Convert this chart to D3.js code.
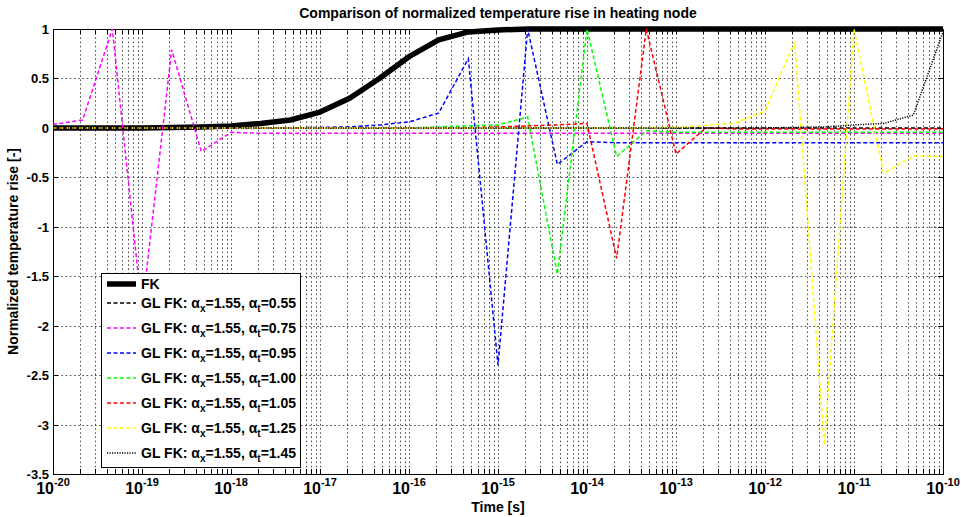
<!DOCTYPE html>
<html>
<head>
<meta charset="utf-8">
<script src="https://cdn.jsdelivr.net/npm/d3@7"></script>
<style>
body { margin: 0; background: #fff; }
svg { display: block; font-family: Arial, "Liberation Sans", Helvetica, sans-serif; font-weight: bold; }
</style>
</head>
<body>
<svg id="chart" width="961" height="517"></svg>
<script>
// sample times [s]
const times = [
    1e-20, 2.154e-20, 4.642e-20,
    1e-19, 2.154e-19, 4.642e-19,
    1e-18, 2.154e-18, 4.642e-18,
    1e-17, 2.154e-17, 4.642e-17,
    1e-16, 2.154e-16, 4.642e-16,
    1e-15, 2.154e-15, 4.642e-15,
    1e-14, 2.154e-14, 4.642e-14,
    1e-13, 2.154e-13, 4.642e-13,
    1e-12, 2.154e-12, 4.642e-12,
    1e-11, 2.154e-11, 4.642e-11,
    1e-10
];

const fk = [0, 0, 0, 0, 0.005, 0.01, 0.02, 0.045, 0.08, 0.16, 0.30, 0.50, 0.72, 0.89, 0.97, 0.99,
    1, 1, 1, 1, 1, 1, 1, 1, 1, 1, 1, 1, 1, 1, 1];
const gl055 = [0, 0, 0, 0, 0, 0, 0, 0, 0, 0, 0, 0, 0, 0, 0, 0,
    0, 0, 0, 0, 0, 0, 0, 0, 0, 0, 0, 0, 0, 0, 0];
const gl075 = [0.035, 0.08, 1.0, -1.85, 0.79, -0.24, -0.045, -0.055, -0.055, -0.055, -0.055,
    -0.055, -0.055, -0.055, -0.055, -0.055, -0.055, -0.055, -0.055, -0.055, -0.055,
    -0.055, -0.055, -0.055, -0.055, -0.055, -0.055, -0.055, -0.055, -0.055, -0.055];
const gl095 = [0, 0, 0, 0, 0, 0, 0, 0, 0, 0.005, 0.01, 0.03, 0.06, 0.15, 0.70, -2.40,
    1.0, -0.37, -0.14, -0.15, -0.15, -0.15, -0.15, -0.15, -0.15, -0.15, -0.15, -0.15, -0.15, -0.15, -0.15];
const gl100 = [0, 0, 0, 0, 0, 0, 0, 0, 0, 0, 0, 0, 0, 0.01, 0.02, 0.03,
    0.11, -1.48, 1.0, -0.29, -0.03, -0.045, -0.045, -0.045, -0.045, -0.045, -0.045, -0.045, -0.045, -0.045, -0.045];
const gl105 = [0, 0, 0, 0, 0, 0, 0, 0, 0, 0, 0, 0, 0, 0, 0, 0.01,
    0.02, 0.03, 0.045, -1.32, 1.0, -0.265, 0.0, -0.01, -0.01, -0.01, -0.01, -0.01, -0.01, -0.01, -0.01];
const gl125 = [0, 0, 0, 0, 0, 0, 0, 0, 0, 0, 0, 0, 0, 0, 0, 0,
    0, 0, 0, 0, 0, 0.005, 0.025, 0.05, 0.17, 0.87, -3.21, 1.0, -0.46, -0.285, -0.29];
const gl145 = [0, 0, 0, 0, 0, 0, 0, 0, 0, 0, 0, 0, 0, 0, 0, 0,
    0, 0, 0, 0, 0, 0, 0, 0, 0, 0.005, 0.01, 0.03, 0.045, 0.13, 0.97];

const glSeries = [gl055, gl075, gl095, gl100, gl105, gl125, gl145];
const alphaT = ["0.55", "0.75", "0.95", "1.00", "1.05", "1.25", "1.45"];
const glColors = ["#000000", "#ff00ff", "#0000ff", "#00ff00", "#ff0000", "#ffff00", "#000000"];
const glDash = ["4,2.5", "4,2.5", "4,2.5", "4,2.5", "4,2.5", "4,2.5", "1.2,1.3"];

const yTicks = [1, 0.5, 0, -0.5, -1, -1.5, -2, -2.5, -3, -3.5];
const yTickLabels = ["1", "0.5", "0", "-0.5", "-1", "-1.5", "-2", "-2.5", "-3", "-3.5"];
const xTickExps = [-20, -19, -18, -17, -16, -15, -14, -13, -12, -11, -10];

const svg = d3.select("#chart"),
    pLeft = 53, pRight = 943, pTop = 29, pBottom = 474;

const x = d3.scaleLog().domain([1e-20, 1e-10]).range([pLeft, pRight]);
const y = d3.scaleLinear().domain([-3.5, 1]).range([pBottom, pTop]);

// grid
const grid = svg.append("g")
    .attr("stroke", "#222")
    .attr("stroke-width", 0.8)
    .attr("stroke-dasharray", "1.6,2.6");

grid.selectAll("line.vx")
    .data(x.ticks(20).filter(function (d) { return d > 1e-20 && d < 1e-10; }))
    .enter().append("line")
    .attr("x1", function (d) { return Math.round(x(d)) + 0.5; })
    .attr("x2", function (d) { return Math.round(x(d)) + 0.5; })
    .attr("y1", pTop)
    .attr("y2", pBottom);

grid.selectAll("line.hy")
    .data(yTicks.filter(function (d) { return d > -3.5 && d < 1; }))
    .enter().append("line")
    .attr("x1", pLeft)
    .attr("x2", pRight)
    .attr("y1", function (d) { return Math.round(y(d)) + 0.5; })
    .attr("y2", function (d) { return Math.round(y(d)) + 0.5; });

// inner tick marks
const tickG = svg.append("g").attr("stroke", "#000").attr("stroke-width", 1);
x.ticks(20).forEach(function (d) {
    const px = Math.round(x(d)) + 0.5;
    tickG.append("line").attr("x1", px).attr("x2", px).attr("y1", pBottom).attr("y2", pBottom - 5);
    tickG.append("line").attr("x1", px).attr("x2", px).attr("y1", pTop).attr("y2", pTop + 5);
});
yTicks.forEach(function (d) {
    const py = Math.round(y(d)) + 0.5;
    tickG.append("line").attr("x1", pLeft).attr("x2", pLeft + 5).attr("y1", py).attr("y2", py);
    tickG.append("line").attr("x1", pRight).attr("x2", pRight - 5).attr("y1", py).attr("y2", py);
});

// box
svg.append("rect")
    .attr("x", pLeft + 0.5)
    .attr("y", pTop + 0.5)
    .attr("width", pRight - pLeft)
    .attr("height", pBottom - pTop)
    .attr("fill", "none")
    .attr("stroke", "#000")
    .attr("stroke-width", 1);

// y tick labels
svg.append("g").selectAll("text")
    .data(yTicks)
    .enter().append("text")
    .attr("x", pLeft - 4)
    .attr("y", function (d) { return y(d) + 5; })
    .attr("text-anchor", "end")
    .attr("font-size", 13)
    .text(function (d, i) { return yTickLabels[i]; });

// x tick labels
const xLab = svg.append("g").selectAll("text")
    .data(xTickExps)
    .enter().append("text")
    .attr("x", function (d) { return x(Math.pow(10, d)); })
    .attr("y", 494)
    .attr("text-anchor", "middle");
xLab.append("tspan").attr("font-size", 16).text("10");
xLab.append("tspan").attr("font-size", 11).attr("dy", -8).text(function (d) { return String(d); });

// lines
const line = d3.line()
    .x(function (d, i) { return x(times[i]); })
    .y(function (d) { return y(d); });

svg.append("path")
    .attr("d", line(fk))
    .attr("fill", "none")
    .attr("stroke", "#000")
    .attr("stroke-width", 5.5)
    .attr("stroke-linejoin", "round");

glSeries.forEach(function (s, k) {
    svg.append("path")
        .attr("d", line(s))
        .attr("fill", "none")
        .attr("stroke", glColors[k])
        .attr("stroke-width", 1.5)
        .attr("stroke-dasharray", glDash[k]);
});

// title and axis labels
svg.append("text")
    .attr("x", (pLeft + pRight) / 2)
    .attr("y", 18)
    .attr("text-anchor", "middle")
    .attr("font-size", 14)
    .text("Comparison of normalized temperature rise in heating node");

svg.append("text")
    .attr("x", (pLeft + pRight) / 2)
    .attr("y", 512)
    .attr("text-anchor", "middle")
    .attr("font-size", 14)
    .text("Time [s]");

svg.append("text")
    .attr("transform", "translate(18," + ((pTop + pBottom) / 2) + ") rotate(-90)")
    .attr("text-anchor", "middle")
    .attr("font-size", 14)
    .text("Normalized temperature rise [-]");

// legend
const legend = svg.append("g");
legend.append("rect")
    .attr("x", 101.5)
    .attr("y", 273.5)
    .attr("width", 199)
    .attr("height", 194)
    .attr("fill", "#fff")
    .attr("stroke", "#000");

legend.append("line")
    .attr("x1", 107).attr("x2", 136)
    .attr("y1", 284).attr("y2", 284)
    .attr("stroke", "#000")
    .attr("stroke-width", 5.5);
legend.append("text")
    .attr("x", 141).attr("y", 289)
    .attr("font-size", 14)
    .text("FK");

alphaT.forEach(function (a, k) {
    const ly = 303 + k * 25;
    legend.append("line")
        .attr("x1", 107).attr("x2", 136)
        .attr("y1", ly).attr("y2", ly)
        .attr("stroke", glColors[k])
        .attr("stroke-width", 1.5)
        .attr("stroke-dasharray", glDash[k]);
    const t = legend.append("text")
        .attr("x", 141).attr("y", ly + 4.5)
        .attr("font-size", 14);
    t.append("tspan").text("GL FK: \u03b1");
    t.append("tspan").attr("font-size", 10).attr("dy", 4).text("x");
    t.append("tspan").attr("dy", -4).text("=1.55, \u03b1");
    t.append("tspan").attr("font-size", 10).attr("dy", 4).text("t");
    t.append("tspan").attr("dy", -4).text("=" + a);
});
</script>
</body>
</html>
